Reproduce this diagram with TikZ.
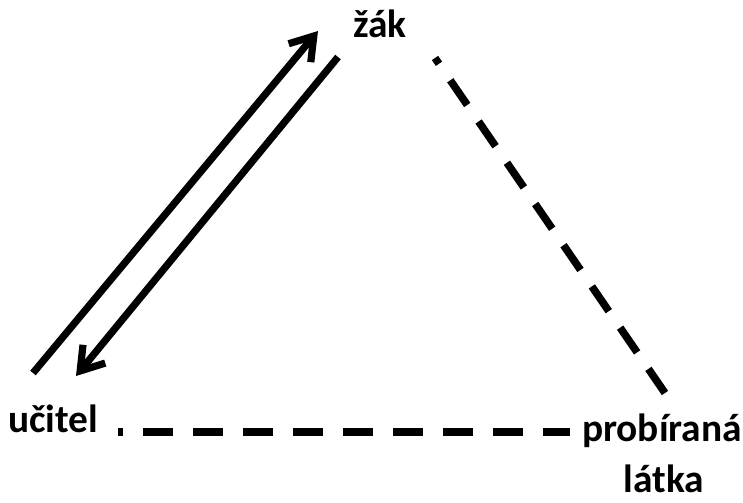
\documentclass[tikz,border=0pt]{standalone}
\usepackage{fontspec}
\setmainfont{Carlito}
\usetikzlibrary{arrows.meta}

\begin{document}
\begin{tikzpicture}[x=0.025cm,y=-0.025cm,
  lbl/.style={font=\fontsize{28}{33}\selectfont\bfseries,inner sep=0pt,anchor=base},
  arr/.style={line width=0.18cm,-{Straight Barb[length=0.55cm,width=0.72cm]}},
  dsh/.style={line width=0.19cm,dash pattern=on 0.75cm off 0.5cm}]
\useasboundingbox(0,0)rectangle(743,502);
\node[lbl](zak)at(380,37){žák};\node[lbl](uci)at(53,432){učitel};
\node[lbl](pro)at(662,441){probíraná};\node[lbl](lat)at(664,492){látka};
\coordinate(u1)at(33,373);\coordinate(z1)at(318,31);\coordinate(z2)at(338,57);\coordinate(u2)at(76,376);
\coordinate(z3)at(435,58);\coordinate(p1)at(665,393);
\draw[arr](u1)--(z1);\draw[arr](z2)--(u2);
\draw[dsh,dash phase=0.575cm](z3)--(p1);
\draw[dsh,dash phase=0.625cm,shorten <=0.5cm,shorten >=0.3cm](uci.base east)--(uci.base east-|pro.base west);
\end{tikzpicture}
\end{document}
